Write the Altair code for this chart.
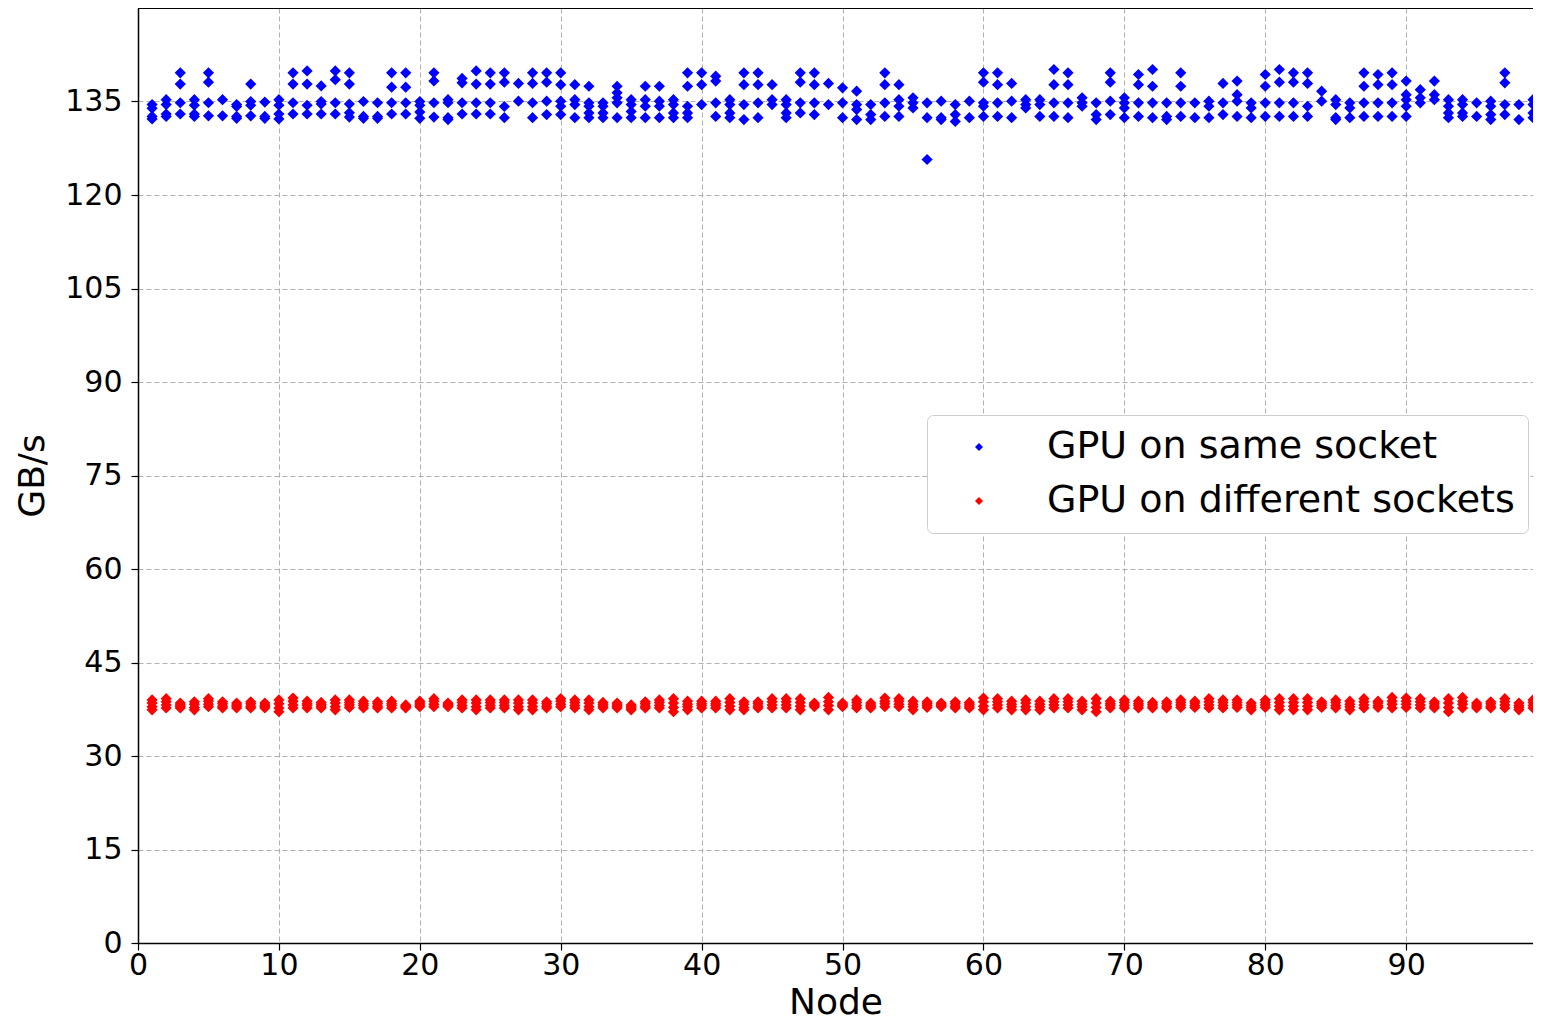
import altair as alt
import pandas as pd

# ---- data ----
nodes = list(range(1, 100))

same_socket = [
    [134.5, 133.9, 132.6, 132.2], [135.3, 134.5, 133.0, 132.6], [139.6, 137.8, 134.8, 133.0],
    [135.3, 134.4, 133.0, 132.6], [139.6, 138.1, 134.8, 132.7], [135.3, 132.7],
    [134.5, 134.2, 132.6, 132.3], [137.8, 135.0, 134.4, 132.7], [134.9, 132.6, 132.3],
    [135.3, 134.4, 133.0, 132.2], [139.6, 137.8, 134.8, 133.0], [139.9, 137.8, 134.4, 133.0],
    [137.5, 135.0, 134.6, 133.0], [139.9, 138.5, 134.8, 133.0], [139.6, 137.8, 134.6, 133.2, 132.5],
    [135.0, 132.6, 132.3], [134.8, 132.6, 132.3], [139.6, 137.3, 134.8, 133.0],
    [139.6, 137.3, 134.8, 133.0], [135.0, 134.4, 133.3, 132.3], [139.6, 138.3, 134.8, 132.5],
    [135.3, 134.8, 132.4, 132.1], [138.7, 138.0, 134.8, 133.0], [139.9, 137.8, 134.8, 133.0],
    [139.6, 137.8, 134.8, 133.0], [139.6, 138.1, 134.2, 132.4], [137.9, 135.05],
    [139.6, 137.9, 134.8, 132.4], [139.6, 138.1, 135.05, 132.9], [139.6, 137.7, 135.05, 134.24, 132.9],
    [137.7, 135.3, 134.5, 132.4], [137.45, 134.78, 134.24, 133.17, 132.4], [134.78, 134.24, 133.17, 132.4],
    [137.45, 136.4, 135.6, 134.78, 132.4], [135.3, 134.5, 133.4, 132.4], [137.45, 135.3, 134.24, 132.4],
    [137.45, 135.05, 134.24, 132.4], [135.3, 134.5, 133.17, 132.4], [139.6, 137.45, 134.24, 133.17, 132.4],
    [139.6, 137.7, 134.5], [139.07, 138.27, 134.78, 132.6], [135.3, 134.5, 133.17, 132.4],
    [139.6, 137.7, 134.5, 132.1], [139.6, 137.7, 134.78, 132.4], [137.7, 135.3, 134.5],
    [135.3, 134.5, 133.17, 132.4], [139.6, 138.1, 134.78, 133.17], [139.6, 137.7, 134.78, 132.9],
    [137.9, 134.5], [137.2, 134.78, 132.4], [136.66, 134.5, 133.7, 132.1],
    [134.5, 132.9, 132.1], [139.6, 137.7, 134.78, 132.6], [137.7, 135.3, 134.24, 132.6],
    [135.6, 134.78, 133.97], [134.78, 132.4, 125.7], [135.05, 132.4, 132.1],
    [134.5, 132.9, 131.8], [135.05, 132.4], [139.6, 138.1, 134.78, 134.24, 132.6],
    [139.6, 137.7, 134.78, 132.6], [137.9, 135.05, 132.4], [135.3, 134.5, 133.97],
    [135.3, 134.5, 132.6], [140.13, 137.7, 134.78, 132.6], [139.6, 137.7, 134.78, 132.4],
    [135.6, 134.78, 134.24], [134.78, 132.9, 132.1], [139.6, 138.1, 135.05, 132.9],
    [135.6, 134.78, 133.97, 132.4], [139.33, 137.7, 134.78, 132.6], [140.13, 137.45, 134.78, 132.4],
    [134.78, 132.6, 132.1], [139.6, 137.45, 134.78, 132.6], [134.78, 132.4],
    [135.05, 134.24, 132.4], [137.9, 134.78, 132.9], [138.27, 136.1, 135.05, 132.6],
    [134.78, 133.97, 132.4], [139.33, 137.45, 134.78, 132.6], [140.13, 138.1, 134.78, 132.6],
    [139.6, 138.1, 134.78, 132.6], [139.6, 137.9, 134.24, 132.6], [136.66, 135.05],
    [135.3, 134.5, 132.4, 132.1], [134.78, 133.97, 132.4], [139.6, 137.45, 134.78, 132.6],
    [139.33, 137.7, 134.78, 132.6], [139.6, 137.7, 134.78, 132.6], [138.27, 136.1, 135.3, 134.24, 132.6],
    [136.9, 135.6, 134.78], [138.27, 136.1, 135.3], [135.3, 134.24, 133.17, 132.4],
    [135.3, 134.5, 133.17, 132.6], [134.78, 132.6], [135.05, 134.24, 132.9, 132.1],
    [139.6, 138.0, 134.5, 132.9], [134.5, 132.1], [135.3, 134.5, 133.17, 132.4],
]

diff_high = [
    39.0, 39.2, 38.5, 38.7, 39.2, 38.7, 38.5, 38.7, 38.5, 39.0,
    39.3, 38.8, 38.6, 39.0, 39.0, 38.8, 38.7, 38.8, 38.2, 38.8,
    39.2, 38.5, 39.0, 39.0, 39.0, 39.0, 39.0, 39.0, 38.7, 39.2,
    39.0, 39.0, 38.6, 38.5, 38.2, 38.7, 39.0, 39.2, 38.8, 38.8,
    38.8, 39.2, 38.7, 38.7, 39.2, 39.2, 39.2, 38.5, 39.4, 38.5,
    39.0, 38.5, 39.3, 39.2, 38.8, 38.7, 38.5, 38.7, 38.6, 39.3,
    39.2, 38.8, 39.0, 38.8, 39.2, 39.2, 38.8, 39.2, 38.8, 39.0,
    38.8, 38.6, 38.7, 39.0, 38.8, 39.2, 39.0, 39.0, 38.5, 39.0,
    39.2, 39.2, 39.2, 38.7, 39.0, 38.8, 39.2, 38.8, 39.4, 39.3,
    39.2, 38.7, 39.2, 39.4, 38.5, 38.7, 39.2, 38.5, 39.0,
]
diff_upper = [
    38.5, 38.7, 38.2, 38.3, 38.8, 38.4, 38.2, 38.4, 38.2, 38.4,
    38.8, 38.4, 38.3, 38.5, 38.6, 38.4, 38.4, 38.4, 38.0, 38.5,
    38.8, 38.3, 38.6, 38.5, 38.6, 38.6, 38.5, 38.5, 38.4, 38.8,
    38.6, 38.5, 38.3, 38.2, 37.9, 38.4, 38.6, 38.5, 38.3, 38.4,
    38.4, 38.6, 38.3, 38.4, 38.7, 38.7, 38.6, 38.3, 38.7, 38.3,
    38.6, 38.2, 38.8, 38.8, 38.3, 38.4, 38.3, 38.4, 38.3, 38.7,
    38.7, 38.3, 38.5, 38.3, 38.7, 38.7, 38.3, 38.5, 38.4, 38.6,
    38.4, 38.3, 38.4, 38.6, 38.5, 38.7, 38.6, 38.6, 38.1, 38.6,
    38.6, 38.6, 38.6, 38.4, 38.6, 38.3, 38.7, 38.5, 38.8, 38.8,
    38.7, 38.4, 38.5, 38.8, 38.2, 38.4, 38.7, 38.1, 38.6,
]
diff_lower = [
    37.9, 38.2, 38.0, 37.8, 38.3, 38.0, 38.0, 38.0, 38.0, 37.7,
    38.2, 38.1, 38.0, 37.9, 38.2, 38.1, 38.0, 38.1, 37.9, 38.2,
    38.3, 38.1, 38.1, 37.9, 38.1, 38.1, 37.9, 37.9, 38.0, 38.3,
    38.1, 37.9, 38.0, 38.0, 37.7, 38.0, 38.1, 37.8, 37.9, 38.1,
    38.1, 38.0, 37.8, 38.0, 38.2, 38.2, 38.0, 38.1, 38.1, 38.1,
    38.1, 38.0, 38.4, 38.3, 37.9, 38.1, 38.1, 38.0, 38.0, 38.0,
    38.2, 37.9, 37.9, 37.9, 38.2, 38.2, 37.9, 37.8, 38.1, 38.1,
    38.1, 38.0, 38.0, 38.2, 38.1, 38.2, 38.1, 38.2, 37.8, 38.2,
    38.0, 38.0, 38.0, 38.1, 38.1, 37.9, 38.2, 38.1, 38.3, 38.3,
    38.2, 38.0, 37.8, 38.3, 38.0, 38.0, 38.2, 37.8, 38.1,
]
diff_low = [
    37.4, 37.7, 37.7, 37.4, 37.9, 37.7, 37.7, 37.7, 37.7, 37.1,
    37.7, 37.7, 37.7, 37.4, 37.8, 37.7, 37.7, 37.7, 37.7, 37.9,
    37.9, 37.9, 37.7, 37.4, 37.7, 37.7, 37.4, 37.4, 37.7, 37.9,
    37.7, 37.4, 37.7, 37.7, 37.4, 37.7, 37.7, 37.1, 37.4, 37.7,
    37.7, 37.4, 37.4, 37.7, 37.7, 37.7, 37.4, 37.9, 37.4, 37.9,
    37.7, 37.7, 37.9, 37.9, 37.4, 37.8, 37.9, 37.7, 37.7, 37.4,
    37.7, 37.4, 37.4, 37.4, 37.7, 37.7, 37.4, 37.1, 37.7, 37.7,
    37.7, 37.7, 37.7, 37.8, 37.8, 37.7, 37.7, 37.8, 37.4, 37.8,
    37.4, 37.4, 37.4, 37.8, 37.7, 37.4, 37.7, 37.8, 37.7, 37.8,
    37.7, 37.7, 37.1, 37.7, 37.7, 37.7, 37.7, 37.4, 37.7,
]

series_names = ["GPU on same socket", "GPU on different sockets"]
series_colors = ["#0000ff", "#ff0000"]

x_ticks = [0, 10, 20, 30, 40, 50, 60, 70, 80, 90]
y_ticks = [0, 15, 30, 45, 60, 75, 90, 105, 120, 135]

# ---- table ----
rows = []
for n, vals in zip(nodes, same_socket):
    for v in vals:
        rows.append({"node": n, "gbs": v, "series": series_names[0]})
for n, a, b, c, d in zip(nodes, diff_high, diff_upper, diff_lower, diff_low):
    for v in (a, b, c, d):
        rows.append({"node": n, "gbs": v, "series": series_names[1]})
df = pd.DataFrame(rows)

W, H = 1395, 935
FONT = "DejaVu Sans"

points = alt.Chart(df).mark_point(shape="diamond", filled=True, size=125, opacity=1).encode(
    x=alt.X("node:Q",
            scale=alt.Scale(domain=[0, 99.0], nice=False, zero=False),
            axis=alt.Axis(values=x_ticks, title="Node", format="d", labelFlush=False)),
    y=alt.Y("gbs:Q",
            scale=alt.Scale(domain=[0, 150], nice=False),
            axis=alt.Axis(values=y_ticks, title="GB/s", format="d", labelFlush=False)),
    color=alt.Color("series:N",
                    scale=alt.Scale(domain=series_names, range=series_colors),
                    sort=series_names,
                    legend=alt.Legend(
                        orient="none", legendX=789, legendY=407, title=None,
                        labelFontSize=38, labelFont=FONT, labelColor="black",
                        symbolType="diamond", symbolSize=64, symbolStrokeWidth=0,
                        padding=13, rowPadding=16, symbolOffset=20, labelOffset=49,
                        strokeColor="#cccccc", fillColor="white", cornerRadius=6,
                        labelLimit=800,
                    )),
)

top_spine = alt.Chart(df).mark_rule(color="black", strokeWidth=1.5).encode(
    x=alt.value(0), x2=alt.value(W), y=alt.value(0)
)

chart = alt.layer(points, top_spine).properties(
    width=W, height=H,
    padding={"left": 130, "top": 0, "right": 0, "bottom": 79},
    autosize=alt.AutoSizeParams(type="none"),
).configure_view(stroke=None).configure_axis(
    labelFont=FONT, titleFont=FONT, labelFontSize=30, titleFontSize=36,
    labelColor="black", titleColor="black", titleFontWeight="normal",
    domainColor="black", domainWidth=1.5, tickColor="black", tickSize=7, tickWidth=1.2,
    grid=True, gridColor="#b0b0b0", gridDash=[5, 3], gridWidth=1,
).configure_axisX(labelPadding=0, titlePadding=5).configure_axisY(labelPadding=9, titlePadding=13)

chart.save("out.html", embed_options={"renderer": "svg", "actions": False})
